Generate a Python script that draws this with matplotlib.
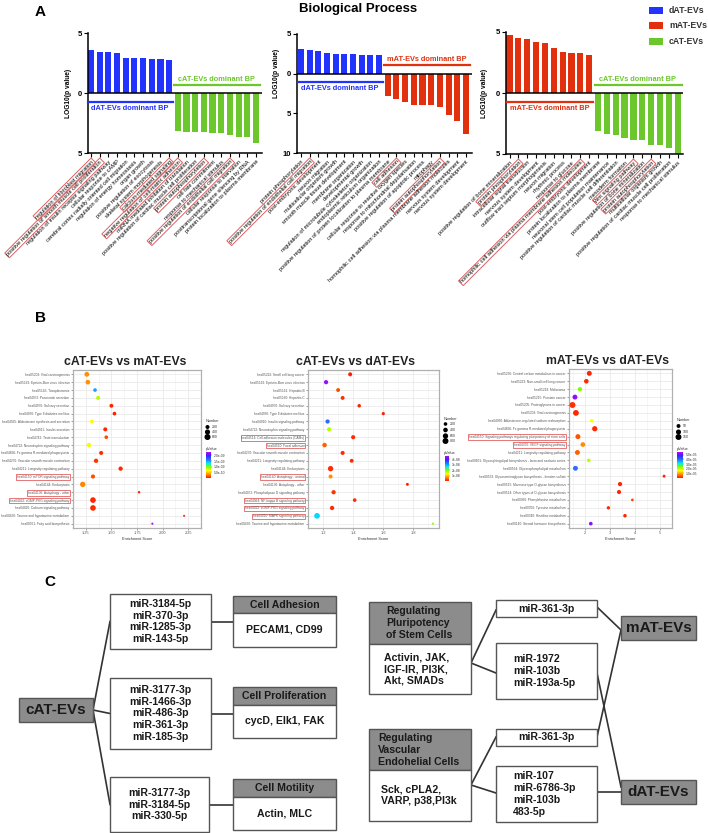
import numpy as np
import matplotlib
matplotlib.use('Agg')
import matplotlib.pyplot as plt
from matplotlib.patches import Rectangle
from matplotlib.colors import LinearSegmentedColormap

plt.rcParams['font.family'] = ['Liberation Sans', 'DejaVu Sans']

W, H = 708, 833
BLUE, RED, GREEN = '#2233ff', '#e2300f', '#6cc72c'
BOXRED = '#e06060'

# ---------------- Panel A data ----------------
a1_pos = [3.6, 3.4, 3.4, 3.3, 2.9, 2.9, 2.9, 2.85, 2.85, 2.75]          # dAT
a1_neg = [3.2, 3.25, 3.25, 3.25, 3.35, 3.35, 3.5, 3.7, 3.7, 4.2]       # cAT
a1_labels = ["regulation of fibroblast migration",
             "positive regulation of smooth muscle cell proliferation",
             "regulation of insulin receptor signaling pathway",
             "cellular response to cAMP",
             "cerebral cortex radially oriented cell migration",
             "regulation of energy homeostasis",
             "organ growth",
             "positive regulation of exocytosis",
             "skeletal system morphogenesis",
             "calcium-mediated signaling",
             "negative regulation of cell-matrix adhesion",
             "miRNA mediated inhibition of translation",
             "positive regulation of cardiac muscle cell proliferation",
             "protein autophosphorylation",
             "cell fate commitment",
             "response to mechanical stimulus",
             "positive regulation of endothelial cell migration",
             "cellular response to starvation",
             "posttranscriptional gene silencing by RNA",
             "protein localization to plasma membrane"]
a1_boxed = [0, 1, 9, 10, 13, 16]

a2_pos = [3.15, 3.0, 2.8, 2.55, 2.45, 2.45, 2.45, 2.4, 2.35, 2.35]     # dAT
a2_neg = [2.8, 3.25, 3.6, 3.9, 3.9, 4.0, 4.2, 5.25, 5.95, 7.6]         # mAT
a2_labels = ["protein phosphorylation",
             "positive regulation of endothelial cell migration",
             "post-embryonic development",
             "neuron migration",
             "multicellular organism growth",
             "smooth muscle tissue development",
             "membrane organization",
             "developmental growth",
             "regulation of microtubule cytoskeleton organization",
             "endoplasmic reticulum organization",
             "positive regulation of protein localization to plasma membrane",
             "cell adhesion",
             "cellular response to reactive oxygen species",
             "response to mitochondrial depolarisation",
             "positive regulation of apoptotic process",
             "mitophagy",
             "protein autophosphorylation",
             "homophilic cell adhesion via plasma membrane adhesion molecules",
             "nervous system development",
             "nervous system development"]
a2_boxed = [1, 11, 16]

a3_pos = [4.75, 4.5, 4.4, 4.2, 4.1, 3.7, 3.35, 3.3, 3.3, 3.15]         # mAT
a3_neg = [3.15, 3.4, 3.45, 3.7, 3.85, 3.85, 4.25, 4.3, 4.5, 5.0]       # cAT
a3_labels = ["positive regulation of bone mineralization",
             "protein phosphorylation",
             "intracellular signal transduction",
             "nervous system development",
             "outflow tract septum morphogenesis",
             "neuron migration",
             "rhythmic process",
             "response to glucose",
             "homophilic cell adhesion via plasma membrane adhesion molecules",
             "post-embryonic development",
             "protein localization to plasma membrane",
             "neuronal stem cell population maintenance",
             "positive regulation of cardiac muscle cell differentiation",
             "mesoderm formation",
             "Wnt signaling pathway",
             "positive regulation of bone mineralization",
             "protein autophosphorylation",
             "multicellular organism growth",
             "positive regulation of cardiac muscle cell proliferation",
             "response to mechanical stimulus"]
a3_boxed = [1, 8, 14, 16]

legend_names = ['dAT-EVs', 'mAT-EVs', 'cAT-EVs']
legend_cols = [BLUE, RED, GREEN]

# ---------------- Panel B data ----------------
b1_terms = ["hsa05203: Viral carcinogenesis", "hsa05169: Epstein-Barr virus infection",
            "hsa05145: Toxoplasmosis", "hsa04972: Pancreatic secretion",
            "hsa04970: Salivary secretion", "hsa04930: Type II diabetes mellitus",
            "hsa04925: Aldosterone synthesis and secretion", "hsa04911: Insulin secretion",
            "hsa04742: Taste transduction", "hsa04722: Neurotrophin signaling pathway",
            "hsa04666: Fc gamma R-mediated phagocytosis", "hsa04270: Vascular smooth muscle contraction",
            "hsa04211: Longevity regulating pathway", "hsa04150: mTOR signaling pathway",
            "hsa04144: Endocytosis", "hsa04136: Autophagy - other",
            "hsa04022: cGMP-PKG signaling pathway", "hsa04020: Calcium signaling pathway",
            "hsa00430: Taurine and hypotaurine metabolism", "hsa00061: Fatty acid biosynthesis"]
b1_score = [1.26, 1.27, 1.34, 1.37, 1.50, 1.53, 1.31, 1.44, 1.45, 1.28,
            1.40, 1.35, 1.59, 1.32, 1.22, 1.77, 1.32, 1.32, 2.21, 1.90]
b1_number = [330, 300, 150, 200, 180, 160, 180, 200, 150, 260,
             200, 250, 240, 220, 450, 40, 500, 500, 15, 20]
b1_pval = [3.5e-10, 3.5e-10, 1.5e-9, 8.5e-10, 2e-11, 3e-11, 6.5e-10, 4e-11, 1.5e-10, 7e-10,
           5e-11, 8e-11, 4e-11, 1.6e-10, 3.2e-10, 3e-11, 4e-11, 5e-11, 1e-11, 2.25e-9]
b1_boxed = [13, 15, 16]

b2_terms = ["hsa05222: Small cell lung cancer", "hsa05169: Epstein-Barr virus infection",
            "hsa05161: Hepatitis B", "hsa05160: Hepatitis C",
            "hsa04970: Salivary secretion", "hsa04930: Type II diabetes mellitus",
            "hsa04910: Insulin signaling pathway", "hsa04722: Neurotrophin signaling pathway",
            "hsa04514: Cell adhesion molecules (CAMs)", "hsa04510: Focal adhesion",
            "hsa04270: Vascular smooth muscle contraction", "hsa04211: Longevity regulating pathway",
            "hsa04144: Endocytosis", "hsa04140: Autophagy - animal",
            "hsa04136: Autophagy - other", "hsa04072: Phospholipase D signaling pathway",
            "hsa04064: NF-kappa B signaling pathway", "hsa04022: cGMP-PKG signaling pathway",
            "hsa04010: MAPK signaling pathway", "hsa00430: Taurine and hypotaurine metabolism"]
b2_score = [1.38, 1.22, 1.30, 1.33, 1.44, 1.60, 1.23, 1.24, 1.40, 1.21,
            1.33, 1.39, 1.25, 1.25, 1.76, 1.27, 1.41, 1.26, 1.16, 1.93]
b2_number = [280, 320, 250, 250, 180, 140, 320, 300, 300, 380,
             280, 250, 600, 280, 100, 330, 200, 330, 700, 40]
b2_pval = [5e-10, 4.4e-8, 3e-9, 1e-9, 5e-10, 3e-10, 3.3e-8, 1.7e-8, 1e-9, 4e-9,
           1e-9, 1e-9, 1e-9, 7e-9, 3e-10, 1.5e-9, 1e-9, 1e-9, 2.7e-8, 1.8e-8]
b2_boxed = [8, 9, 13, 16, 17, 18]

b3_terms = ["hsa05230: Central carbon metabolism in cancer", "hsa05223: Non-small cell lung cancer",
            "hsa05218: Melanoma", "hsa05215: Prostate cancer",
            "hsa05205: Proteoglycans in cancer", "hsa05203: Viral carcinogenesis",
            "hsa04960: Aldosterone-regulated sodium reabsorption", "hsa04666: Fc gamma R-mediated phagocytosis",
            "hsa04550: Signaling pathways regulating pluripotency of stem cells", "hsa04370: VEGF signaling pathway",
            "hsa04211: Longevity regulating pathway",
            "hsa00601: Glycosphingolipid biosynthesis - lacto and neolacto series",
            "hsa00564: Glycerophospholipid metabolism",
            "hsa00533: Glycosaminoglycan biosynthesis - keratan sulfate",
            "hsa00515: Mannose type O-glycan biosynthesis", "hsa00514: Other types of O-glycan biosynthesis",
            "hsa00360: Phenylalanine metabolism", "hsa00350: Tyrosine metabolism",
            "hsa00340: Histidine metabolism", "hsa00140: Steroid hormone biosynthesis"]
b3_score = [2.16, 2.04, 1.78, 1.58, 1.48, 1.62, 2.26, 2.38, 1.70, 1.90,
            1.68, 2.14, 1.60, 5.18, 3.40, 3.36, 3.90, 2.93, 3.60, 2.22]
b3_number = [95, 75, 60, 90, 150, 140, 40, 110, 95, 80,
             90, 40, 90, 20, 60, 55, 15, 30, 35, 40]
b3_pval = [1e-6, 1e-6, 2.4e-5, 5.3e-5, 1.5e-6, 1e-6, 1.6e-5, 1e-6, 4e-6, 8e-6,
           5e-6, 2e-5, 4e-5, 1e-6, 1e-6, 1e-6, 3e-6, 1e-6, 1e-6, 5.3e-5]
b3_boxed = [8, 9]

# ---------------- Panel C data ----------------
cat_mirs = [["miR-3184-5p", "miR-370-3p", "miR-1285-3p", "miR-143-5p"],
            ["miR-3177-3p", "miR-1466-3p", "miR-486-3p", "miR-361-3p", "miR-185-3p"],
            ["miR-3177-3p", "miR-3184-5p", "miR-330-5p"]]
cat_funcs = [("Cell Adhesion", "PECAM1, CD99"),
             ("Cell Proliferation", "cycD, Elk1, FAK"),
             ("Cell Motility", "Actin, MLC")]
stem_head = ["Regulating", "Pluripotency", "of Stem Cells"]
stem_body = ["Activin, JAK,", "IGF-IR, PI3K,", "Akt, SMADs"]
vasc_head = ["Regulating", "Vascular", "Endohelial Cells"]
vasc_body = ["Sck, cPLA2,", "VARP, p38,PI3k"]
right_mirs = [["miR-361-3p"], ["miR-1972", "miR-103b", "miR-193a-5p"],
              ["miR-361-3p"], ["miR-107", "miR-6786-3p", "miR-103b", "483-5p"]]

fig = plt.figure(figsize=(W / 100, H / 100), dpi=100)


def ax_px(x0, y0, x1, y1):
    return fig.add_axes([x0 / W, 1 - y1 / H, (x1 - x0) / W, (y1 - y0) / H])


ov = ax_px(0, 0, W, H)
ov.set_xlim(0, W)
ov.set_ylim(H, 0)
ov.axis('off')


# ---------------- Panel A ----------------
def bp_chart(rect, pos, neg, pcol, ncol, labels, boxed, xlim, ymin, ylabel_x,
             ptxt, ntxt, pline_y, ptxt_y, nline_y, ntxt_y):
    ax = ax_px(*rect)
    vals = list(pos) + [-v for v in neg]
    cols = [pcol] * len(pos) + [ncol] * len(neg)
    ax.bar(range(len(vals)), vals, width=0.7, color=cols, zorder=2)
    ax.axhline(0, color='black', lw=1.1, zorder=3)
    ax.set_xlim(*xlim)
    ax.set_ylim(ymin, 5)
    yt = list(range(ymin, 6, 5))
    ax.set_yticks(yt)
    ax.set_yticklabels([str(abs(t)) for t in yt], fontsize=5.5, fontweight='bold')
    ax.set_xticks(range(len(vals)))
    ax.set_xticklabels(labels, rotation=45, ha='right', va='top',
                       rotation_mode='anchor', fontsize=4.1)
    for i in boxed:
        ax.get_xticklabels()[i].set_bbox(dict(boxstyle='square,pad=0.15', fc='none',
                                              ec=BOXRED, lw=0.7))
    for s in ['top', 'right']:
        ax.spines[s].set_visible(False)
    for s in ['left', 'bottom']:
        ax.spines[s].set_linewidth(1.1)
    ax.tick_params(axis='x', length=3, width=0.8, pad=1.5)
    ax.tick_params(axis='y', length=3, width=0.8, pad=1)
    ax.patch.set_alpha(0)
    # dominant-BP annotations
    ax.plot([-0.3, 9.4], [pline_y, pline_y], color=pcol, lw=1.6, clip_on=False, zorder=4)
    ax.text(4.5, ptxt_y, ptxt, color=pcol, fontsize=5.3, fontweight='bold',
            ha='center', va='center')
    ax.plot([9.6, 19.5], [nline_y, nline_y], color=ncol, lw=1.6, clip_on=False, zorder=4)
    ax.text(14.5, ntxt_y, ntxt, color=ncol, fontsize=5.3, fontweight='bold',
            ha='center', va='center')
    ov.text(ylabel_x, (rect[1] + rect[3]) / 2 - (rect[3] - rect[1]) * (0 if ymin == -5 else 0.17),
            'LOG10(p value)', rotation=90, fontsize=4.8, fontweight='bold',
            ha='center', va='center')
    return ax


bp_chart((88, 33, 262, 153), a1_pos, a1_neg, BLUE, GREEN, a1_labels, a1_boxed,
         (-0.35, 19.7), -5, 68, 'dAT-EVs dominant BP', 'cAT-EVs dominant BP',
         -0.75, -1.3, 0.7, 1.15)
bp_chart((297, 34, 472, 153), a2_pos, a2_neg, BLUE, RED, a2_labels, a2_boxed,
         (-0.45, 19.7), -10, 277, 'dAT-EVs dominant BP', 'mAT-EVs dominant BP',
         -1.1, -1.9, 1.1, 1.75)
bp_chart((506, 32, 683, 154), a3_pos, a3_neg, RED, GREEN, a3_labels, a3_boxed,
         (-0.4, 19.6), -5, 485, 'mAT-EVs dominant BP', 'cAT-EVs dominant BP',
         -0.75, -1.25, 0.65, 1.1)

ov.text(40, 12, 'A', fontsize=11, fontweight='bold', ha='center', va='center')
ov.text(358, 9, 'Biological Process', fontsize=9.5, fontweight='bold', ha='center', va='center')
for i, (nm, c) in enumerate(zip(legend_names, legend_cols)):
    y = 10 + i * 15.5
    ov.add_patch(Rectangle((649, y - 3.5), 14, 7, fc=c, ec='none'))
    ov.text(669, y, nm, fontsize=6.3, fontweight='bold', color='#333333', va='center')

# ---------------- Panel B ----------------
cmap = LinearSegmentedColormap.from_list(
    'pv', ['#ff1a00', '#ff8c00', '#ffff00', '#7cff00', '#00e5ff', '#2f6bff', '#2a2aff', '#c000ff'])


def size_of(n, nmax):
    return (0.9 + 3.6 * np.sqrt(np.asarray(n, dtype=float) / nmax)) ** 2


def dot_chart(rect, title, title_xy, terms, score, number, pval, boxed, xlim, xticks,
              xtl, vmax, nmax, leg_xy, leg_vals, leg_ys, cb_rect, cb_ticks, cb_tl):
    ax = ax_px(*rect)
    y = np.arange(len(terms))
    sc = ax.scatter(score, y, s=size_of(number, nmax), c=pval, cmap=cmap, vmin=0, vmax=vmax,
                    linewidths=0, zorder=3)
    ax.set_ylim(len(terms) - 0.45, -0.55)
    ax.set_yticks(y)
    ax.set_yticklabels(terms, fontsize=2.3, color='#444444')
    for i in boxed:
        ax.get_yticklabels()[i].set_bbox(dict(boxstyle='square,pad=0.25', fc='none',
                                              ec=BOXRED, lw=0.6))
    ax.set_xlim(*xlim)
    ax.set_xticks(xticks)
    ax.set_xticklabels(xtl, fontsize=2.8, color='#444444')
    ax.set_xticks([(a + b) / 2 for a, b in zip(xticks[:-1], xticks[1:])] +
                  [xticks[0] - (xticks[1] - xticks[0]) / 2, xticks[-1] + (xticks[1] - xticks[0]) / 2],
                  minor=True)
    ax.grid(which='major', color='#e6e6e6', lw=0.5)
    ax.grid(which='minor', axis='x', color='#f0f0f0', lw=0.4)
    ax.set_axisbelow(True)
    ax.tick_params(which='major', length=1.5, width=0.4, pad=1, colors='#555555')
    ax.tick_params(which='minor', length=0)
    for s in ax.spines.values():
        s.set_color('#b0b0b0')
        s.set_linewidth(0.9)
    ax.set_xlabel('Enrichment Score', fontsize=2.8, labelpad=1, color='#333333')
    ov.text(title_xy[0], title_xy[1], title, fontsize=8.8, fontweight='bold',
            ha='center', va='center', color='#222222')
    # size legend
    lx, ly = leg_xy
    ov.text(lx, ly, 'Number', fontsize=2.8, va='center', color='#333333')
    ov.scatter([lx + 1.5] * len(leg_vals), leg_ys, s=size_of(leg_vals, nmax), color='black',
               linewidths=0)
    for v, yy in zip(leg_vals, leg_ys):
        ov.text(lx + 6, yy, str(v), fontsize=2.5, va='center', color='#333333')
    ov.text(lx, cb_rect[1] - 3, 'pValue', fontsize=2.8, va='center', color='#333333')
    cax = ax_px(*cb_rect)
    cb = fig.colorbar(sc, cax=cax)
    cb.set_ticks(cb_ticks)
    cb.set_ticklabels(cb_tl)
    cb.ax.tick_params(labelsize=2.4, length=1, width=0.3, pad=0.8, colors='#333333')
    cb.outline.set_visible(False)
    return ax


dot_chart((73, 370, 201, 528), 'cAT-EVs vs mAT-EVs', (125, 362), b1_terms, b1_score,
          b1_number, b1_pval, b1_boxed, (1.17, 2.27), [1.25, 1.50, 1.75, 2.00, 2.25],
          ['1.25', '1.50', '1.75', '2.00', '2.25'], 2.3e-9, 650,
          (206, 421), [200, 400, 600], [427, 432, 437], (206, 452, 211, 478),
          [5e-10, 1e-9, 1.5e-9, 2e-9], ['5.0e-10', '1.0e-09', '1.5e-09', '2.0e-09'])
dot_chart((308, 370, 439, 528), 'cAT-EVs vs dAT-EVs', (356, 362), b2_terms, b2_score,
          b2_number, b2_pval, b2_boxed, (1.12, 1.97), [1.2, 1.4, 1.6, 1.8],
          ['1.2', '1.4', '1.6', '1.8'], 4.6e-8, 900,
          (444, 419), [200, 400, 600, 800], [424, 430, 436, 441], (445, 456, 449, 481),
          [1e-8, 2e-8, 3e-8, 4e-8], ['1e-08', '2e-08', '3e-08', '4e-08'])
dot_chart((569, 369, 672, 528), 'mAT-EVs vs dAT-EVs', (607, 361), b3_terms, b3_score,
          b3_number, b3_pval, b3_boxed, (1.34, 5.35), [2, 3, 4, 5],
          ['2', '3', '4', '5'], 5.6e-5, 170,
          (677, 420), [50, 100, 150], [426, 432, 437], (677, 452, 683, 478),
          [1e-5, 2e-5, 3e-5, 4e-5, 5e-5], ['1.0e-05', '2.0e-05', '3.0e-05', '4.0e-05', '5.0e-05'])

ov.text(40, 318, 'B', fontsize=11, fontweight='bold', ha='center', va='center')

# ---------------- Panel C ----------------
EDGE = '#555555'
GRAY = '#8c8c8c'
LC = '#333333'


def box(x0, y0, x1, y1, fc='white'):
    ov.add_patch(Rectangle((x0, y0), x1 - x0, y1 - y0, fc=fc, ec=EDGE, lw=1.0, zorder=2))


def line(x0, y0, x1, y1):
    ov.plot([x0, x1], [y0, y1], color=LC, lw=1.2, zorder=1)


def txt(x, y, lines, ha='center', size=7.6):
    ov.text(x, y, '\n'.join(lines), ha=ha, va='center', fontsize=size, fontweight='bold',
            linespacing=1.22, color='#1a1a1a', zorder=3)


ov.text(50, 582, 'C', fontsize=11, fontweight='bold', ha='center', va='center')

# left tree
box(19, 698, 93, 722, GRAY)
txt(56, 710, ['cAT-EVs'], size=11)
mir_boxes = [(110, 594, 211, 649), (110, 678, 211, 749), (110, 777, 209, 832)]
func_boxes = [(233, 596, 613, 647), (233, 687, 705, 738), (233, 779, 797, 830)]
for (x0, y0, x1, y1), mirs, (fx0, fy0, fym, fy1), (head, body) in zip(
        mir_boxes, cat_mirs, func_boxes, cat_funcs):
    cy = (y0 + y1) / 2
    line(93, 710, x0, cy)
    box(x0, y0, x1, y1)
    txt((x0 + x1) / 2, cy, mirs)
    line(x1, cy, fx0, cy)
    box(fx0, fy0, 336, fym, GRAY)
    box(fx0, fym, 336, fy1)
    txt(284.5, (fy0 + fym) / 2, [head])
    txt(284.5, (fym + fy1) / 2, [body])

# right network
box(369, 602, 471, 644, GRAY)
box(369, 644, 471, 694)
txt(386, 623, stem_head, ha='left')
txt(384, 669, stem_body, ha='left')
box(369, 729, 471, 770, GRAY)
box(369, 770, 471, 821)
txt(378, 750, vasc_head, ha='left')
txt(381, 795, vasc_body, ha='left')

rm_boxes = [(496, 600, 597, 617), (496, 643, 597, 699), (496, 729, 597, 746), (496, 766, 597, 822)]
for (x0, y0, x1, y1), mirs in zip(rm_boxes, right_mirs):
    box(x0, y0, x1, y1)
    if len(mirs) == 1:
        txt((x0 + x1) / 2, (y0 + y1) / 2, mirs)
    else:
        txt(513, (y0 + y1) / 2, mirs, ha='left')

box(621, 616, 696, 640, GRAY)
txt(658.5, 628, ['mAT-EVs'], size=11)
box(621, 780, 696, 804, GRAY)
txt(658.5, 792, ['dAT-EVs'], size=11)

line(471, 663, 496, 610)
line(471, 663, 496, 673)
line(471, 785, 496, 737)
line(471, 785, 496, 793)
line(597, 607, 621, 630)
line(597, 737, 621, 630)
line(597, 673, 621, 787)
line(597, 792, 621, 792)

fig.savefig('out.png', dpi=100)
